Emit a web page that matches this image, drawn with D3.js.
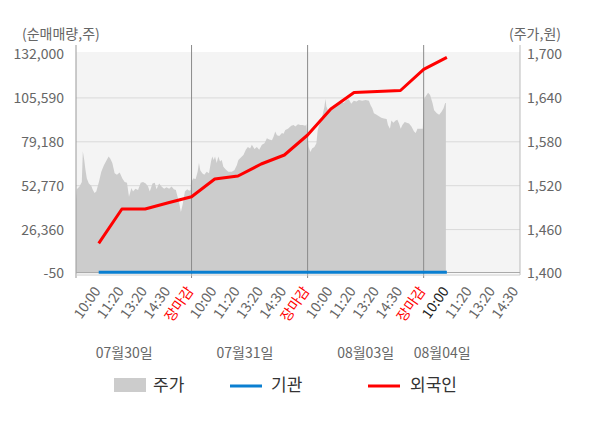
<!DOCTYPE html>
<html><head><meta charset="utf-8">
<script src="https://cdn.jsdelivr.net/npm/d3@7/dist/d3.min.js"></script>
<style>
html,body{margin:0;padding:0;background:#fff;}
svg text{font-family:"Noto Sans CJK KR","Noto Sans",sans-serif;}
</style></head>
<body>
<svg id="c" width="600" height="428"></svg>
<script>
// ---- data ----
const tickLabels = ["10:00","11:20","13:20","14:30","장마감","10:00","11:20","13:20","14:30","장마감","10:00","11:20","13:20","14:30","장마감","10:00","11:20","13:20","14:30"];
const tickSlots = d3.range(1, 20);
const closeSlots = [5, 10, 15];
const currentSlot = 16;
const dayLabels = ["07월30일","07월31일","08월03일","08월04일"];
const dayLabelSlots = [2.1, 7.3, 12.5, 15.8];
const flowSlots = d3.range(1, 17);
const foreignValues = [18100, 38750, 38750, 42540, 46150, 56800, 58600, 65820, 71240, 83270, 98910, 108840, 109440, 110040, 122800, 130010];
const instValues = [700, 700, 700, 700, 700, 700, 700, 700, 700, 700, 700, 700, 700, 700, 700, 700];
const leftTicks = [-50, 26360, 52770, 79180, 105590, 132000];
const rightTicks = [1400, 1460, 1520, 1580, 1640, 1700];
// price series: [time index (tick units), price]
const priceSeries = [
[0,1491],[0.056,1515],[0.173,1519],[0.272,1525],[0.316,1567],[0.376,1555],[0.432,1541],[0.489,1530],
[0.575,1523],[0.679,1520],[0.748,1514],[0.822,1510],[0.895,1512],[1.008,1525],[1.111,1539],[1.224,1548],
[1.328,1554],[1.427,1560],[1.501,1557],[1.587,1551],[1.686,1537],[1.786,1535],[1.903,1538],[2.019,1530],
[2.119,1525],[2.218,1524],[2.305,1505],[2.409,1517],[2.478,1512],[2.582,1516],[2.694,1514],[2.811,1524],
[2.910,1525],[3.027,1523],[3.126,1519],[3.2,1512],[3.317,1523],[3.416,1524],[3.490,1515],[3.602,1523],
[3.706,1519],[3.818,1516],[3.922,1518],[4.035,1516],[4.138,1519],[4.238,1515],[4.324,1514],[4.381,1507],
[4.467,1496],[4.541,1484],[4.614,1494],[4.714,1512],[4.813,1515],[4.9,1513],[4.96,1514],
[4.973,1524],[5.072,1530],[5.176,1529],[5.262,1539],[5.319,1551],[5.375,1541],[5.462,1537],[5.548,1535],
[5.652,1539],[5.751,1537],[5.838,1553],[5.894,1560],[5.955,1555],[6.011,1560],[6.084,1551],[6.154,1560],
[6.227,1553],[6.301,1555],[6.370,1546],[6.473,1542],[6.586,1539],[6.733,1539],[6.845,1541],[6.949,1548],
[7.018,1555],[7.135,1559],[7.235,1562],[7.338,1569],[7.425,1573],[7.524,1571],[7.598,1576],[7.711,1570],
[7.814,1573],[7.914,1569],[8.030,1576],[8.143,1578],[8.246,1585],[8.346,1583],[8.463,1582],[8.532,1587],
[8.605,1594],[8.679,1589],[8.778,1588],[8.895,1592],[8.964,1591],[9.038,1596],[9.154,1598],[9.297,1602],
[9.397,1603],[9.470,1601],[9.587,1604],[9.686,1603],[9.786,1603],[9.903,1602],[9.946,1604],
[10.003,1585],[10.046,1573],[10.119,1566],[10.193,1571],[10.292,1573],[10.378,1578],[10.435,1596],[10.521,1605],
[10.625,1614],[10.724,1628],[10.768,1639],[10.811,1628],[10.911,1621],[11.014,1623],[11.127,1626],[11.243,1630],
[11.343,1632],[11.446,1635],[11.559,1633],[11.676,1637],[11.775,1638],[11.879,1632],[11.991,1636],[12.108,1635],
[12.208,1637],[12.354,1636],[12.497,1637],[12.640,1636],[12.714,1630],[12.787,1626],[12.856,1619],[12.973,1617],
[13.072,1615],[13.176,1613],[13.289,1612],[13.405,1611],[13.462,1603],[13.548,1598],[13.609,1609],[13.695,1606],
[13.795,1609],[13.868,1610],[13.938,1605],[14.011,1598],[14.085,1603],[14.184,1607],[14.270,1606],[14.370,1605],
[14.473,1601],[14.586,1594],[14.659,1592],[14.732,1598],[14.962,1598],
[15.018,1639],[15.191,1647],[15.278,1644],[15.382,1633],[15.451,1623],[15.568,1619],[15.668,1617],[15.771,1621],
[15.857,1626],[15.927,1633],[15.957,1633]
];

// ---- layout ----
const svg = d3.select("#c");
const L = 76, R = 520, T = 52, B = 273.5;
const x = d3.scaleLinear().domain([0, 19]).range([75.5, 516.5]);
const yL = d3.scaleLinear().domain([-50, 132000]).range([B, 54]);
const yR = d3.scaleLinear().domain([1400, 1700]).range([B, 54]);
const fmt = d => d3.format(",")(d).replace("\u2212", "-");

svg.append("rect").attr("x", L).attr("y", T).attr("width", R - L).attr("height", B - T).attr("fill", "#f4f4f4");

// grid
svg.append("g").selectAll("line").data(leftTicks.slice(1, 5)).join("line")
  .attr("x1", L).attr("x2", R).attr("y1", d => yL(d)).attr("y2", d => yL(d))
  .attr("stroke", "#d9d9d9").attr("stroke-width", 1);

svg.append("defs").append("clipPath").attr("id", "clip")
  .append("rect").attr("x", L).attr("y", T).attr("width", R - L).attr("height", B - T);

// price area
const area = d3.area().x(d => x(d[0])).y0(yR(1400)).y1(d => yR(d[1]));
svg.append("path").datum(priceSeries).attr("d", area).attr("fill", "#cccccc").attr("clip-path", "url(#clip)");

// separators
svg.append("g").selectAll("line").data(closeSlots).join("line")
  .attr("x1", d => x(d)).attr("x2", d => x(d)).attr("y1", 45).attr("y2", 278)
  .attr("stroke", "#8a8a8a").attr("stroke-width", 1);

// axes lines
svg.append("line").attr("x1", L).attr("x2", L).attr("y1", 45).attr("y2", 278).attr("stroke", "#999");
svg.append("line").attr("x1", R).attr("x2", R).attr("y1", 45).attr("y2", 275).attr("stroke", "#bbb");
svg.append("line").attr("x1", L).attr("x2", R).attr("y1", B - 1).attr("y2", B - 1).attr("stroke", "#aaa");
svg.append("line").attr("x1", L).attr("x2", R).attr("y1", B + 1.5).attr("y2", B + 1.5).attr("stroke", "#ccc");

// lines
const lineL = d3.line().x(d => x(d[0])).y(d => yL(d[1]));
svg.append("path").datum(flowSlots.map((s, i) => [s, instValues[i]])).attr("d", lineL)
  .attr("fill", "none").attr("stroke", "#0a7fd1").attr("stroke-width", 3.2);
svg.append("path").datum(flowSlots.map((s, i) => [s, foreignValues[i]])).attr("d", lineL)
  .attr("fill", "none").attr("stroke", "#ff0000").attr("stroke-width", 3).attr("stroke-linejoin", "round");

// left tick labels
svg.append("g").selectAll("text").data(leftTicks).join("text")
  .attr("x", 64).attr("y", d => yL(d)).attr("dy", "0.35em").attr("text-anchor", "end")
  .attr("font-size", 14).attr("fill", "#666").text(fmt);
// right tick labels
svg.append("g").selectAll("text").data(rightTicks).join("text")
  .attr("x", 527).attr("y", d => yR(d)).attr("dy", "0.35em").attr("text-anchor", "start")
  .attr("font-size", 14).attr("fill", "#666").text(fmt);

svg.append("text").attr("x", 22).attr("y", 39).attr("font-size", 14).attr("fill", "#666").text("(순매매량,주)");
svg.append("text").attr("x", 561).attr("y", 39).attr("text-anchor", "end").attr("font-size", 14).attr("fill", "#666").text("(주가,원)");

// x tick labels
svg.append("g").selectAll("text").data(tickSlots).join("text")
  .attr("transform", d => `translate(${x(d) + 2.5},291) rotate(-55)`)
  .attr("text-anchor", "end").attr("font-size", 14)
  .attr("fill", (d, i) => closeSlots.includes(d) ? "#ff0000" : (d === currentSlot ? "#222" : "#666"))
  .text((d, i) => tickLabels[i]);

// day labels
svg.append("g").selectAll("text").data(dayLabels).join("text")
  .attr("x", (d, i) => x(dayLabelSlots[i])).attr("y", 358).attr("text-anchor", "middle")
  .attr("font-size", 14).attr("fill", "#666").text(d => d);

// legend
const lg = svg.append("g");
lg.append("rect").attr("x", 114).attr("y", 378).attr("width", 32).attr("height", 14).attr("fill", "#cccccc");
lg.append("text").attr("x", 153).attr("y", 391).attr("font-size", 17).attr("fill", "#333").text("주가");
lg.append("line").attr("x1", 230).attr("x2", 262).attr("y1", 386).attr("y2", 386).attr("stroke", "#0a7fd1").attr("stroke-width", 3);
lg.append("text").attr("x", 271).attr("y", 391).attr("font-size", 17).attr("fill", "#333").text("기관");
lg.append("line").attr("x1", 368).attr("x2", 400).attr("y1", 386).attr("y2", 386).attr("stroke", "#ff0000").attr("stroke-width", 3);
lg.append("text").attr("x", 410).attr("y", 391).attr("font-size", 17).attr("fill", "#333").text("외국인");
</script>
</body></html>
